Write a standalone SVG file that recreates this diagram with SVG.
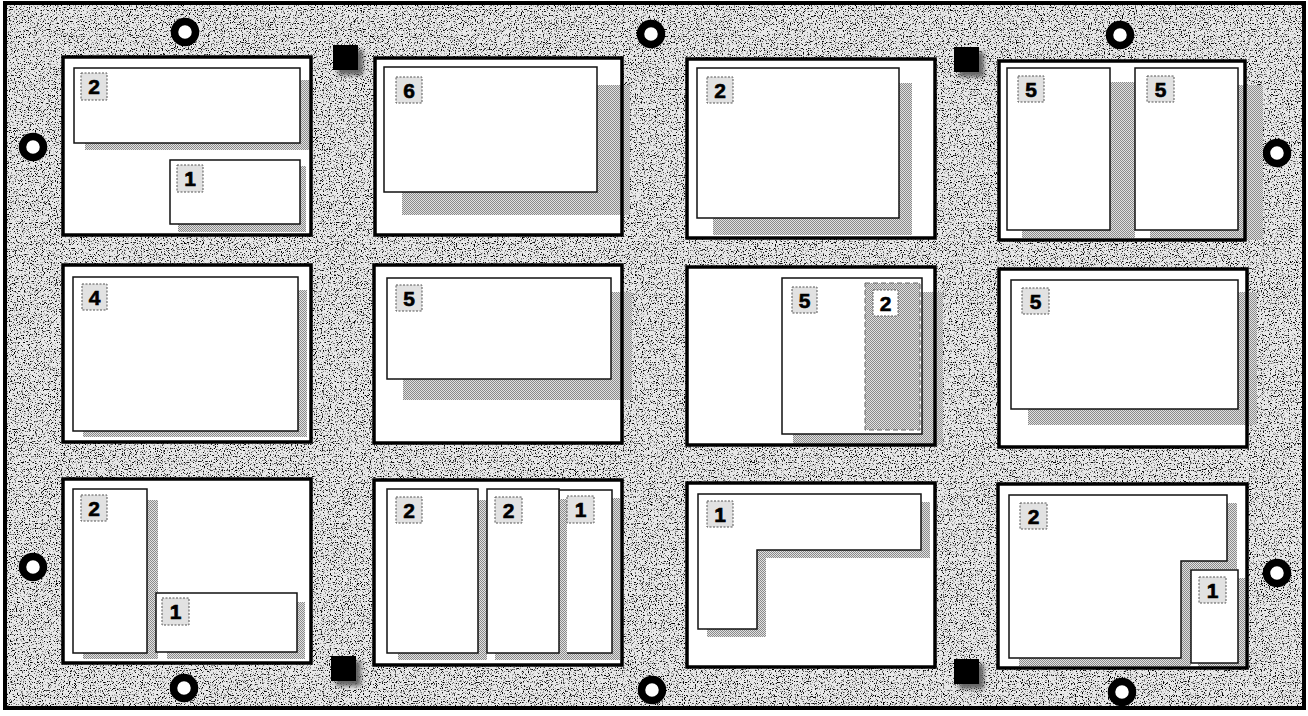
<svg xmlns="http://www.w3.org/2000/svg" width="1308" height="716" viewBox="0 0 1308 716">
<defs>
  <filter id="speck" x="0" y="0" width="100%" height="100%" color-interpolation-filters="sRGB">
    <feTurbulence type="fractalNoise" baseFrequency="0.85" numOctaves="2" seed="5" result="n"/>
    <feColorMatrix in="n" type="matrix" values="0 0 0 0 0  0 0 0 0 0  0 0 0 0 0  1 0 0 0 0"/>
    <feComponentTransfer><feFuncA type="linear" slope="6" intercept="-3.3"/></feComponentTransfer>
  </filter>
  <pattern id="dither" width="2" height="2" patternUnits="userSpaceOnUse">
    <rect width="2" height="2" fill="#e2e2e2"/>
    <rect width="1" height="1" fill="#8a8a8a"/>
    <rect x="1" y="1" width="1" height="1" fill="#8a8a8a"/>
  </pattern>
  <filter id="blur" x="-30%" y="-30%" width="160%" height="160%"><feGaussianBlur stdDeviation="2"/></filter>
  <style>
    .panel{fill:#fff;stroke:none}
    .pborder{fill:none;stroke:#000;stroke-width:3.5}
    .inner{fill:#fff;stroke:#111;stroke-width:1.5}
    .shadow{fill:url(#dither)}
    .lbl{fill:#e2e2e2;stroke:#555;stroke-width:1;stroke-dasharray:2 1.5}
    .lblw{fill:#fff;stroke:#555;stroke-width:1;stroke-dasharray:2 1.5}
    .num{font-family:"Liberation Sans",Arial,sans-serif;font-weight:bold;font-size:21px;fill:#000;text-anchor:middle;stroke:#000;stroke-width:0.6}
    .ring{fill:#fff;stroke:#000;stroke-width:7.5}
    .sq{fill:#000}
    .sqs{fill:#666;filter:url(#blur)}
  </style>
</defs>
<rect width="1308" height="716" fill="#fff"/>
<rect x="5" y="3" width="1299" height="705" fill="#e8e8e8"/>
<rect x="5" y="3" width="1299" height="705" fill="#000" filter="url(#speck)"/>
<rect x="5" y="3" width="1299" height="705" fill="none" stroke="#000" stroke-width="4"/>

<g id="holes">
  <circle class="ring" cx="185" cy="32" r="10.5"/>
  <circle class="ring" cx="651" cy="34" r="10.5"/>
  <circle class="ring" cx="1120" cy="35" r="10.5"/>
  <circle class="ring" cx="33" cy="147" r="10.5"/>
  <circle class="ring" cx="1277" cy="153" r="10.5"/>
  <circle class="ring" cx="33" cy="567" r="10.5"/>
  <circle class="ring" cx="1277" cy="573" r="10.5"/>
  <circle class="ring" cx="184" cy="688" r="10.5"/>
  <circle class="ring" cx="652" cy="690" r="10.5"/>
  <circle class="ring" cx="1122" cy="692" r="10.5"/>
</g>
<g id="markers">
  <rect class="sqs" x="338" y="50" width="25" height="25"/>
  <rect class="sq" x="333" y="45" width="25" height="25"/>
  <rect class="sqs" x="959" y="52" width="25" height="25"/>
  <rect class="sq" x="954" y="47" width="25" height="25"/>
  <rect class="sqs" x="336" y="661" width="25" height="25"/>
  <rect class="sq" x="331" y="656" width="25" height="25"/>
  <rect class="sqs" x="959" y="664" width="25" height="25"/>
  <rect class="sq" x="954" y="659" width="25" height="25"/>
</g>

<g id="panel-r1c1">
  <rect class="panel" x="63" y="57" width="248" height="178"/>
  <rect class="shadow" x="85" y="80" width="226" height="70"/>
  <rect class="inner" x="74" y="68" width="226" height="75"/>
  <rect class="shadow" x="178" y="166" width="128" height="66"/>
  <rect class="inner" x="170" y="160" width="130" height="64"/>
  <rect class="lbl" x="81" y="73" width="26" height="27"/><text class="num" x="94" y="94">2</text>
  <rect class="lbl" x="177" y="165" width="26" height="27"/><text class="num" x="190" y="186">1</text>
  <rect class="pborder" x="63" y="57" width="248" height="178"/>
</g>

<g id="panel-r1c2">
  <rect class="panel" x="375" y="58" width="247" height="177"/>
  <rect class="shadow" x="402" y="85" width="228" height="130"/>
  <rect class="inner" x="384" y="67" width="213" height="125"/>
  <rect class="lbl" x="396" y="77" width="26" height="26"/><text class="num" x="409" y="98">6</text>
  <rect class="pborder" x="375" y="58" width="247" height="177"/>
</g>

<g id="panel-r1c3">
  <rect class="panel" x="687" y="59" width="248" height="179"/>
  <rect class="shadow" x="713" y="83" width="199" height="152"/>
  <rect class="inner" x="697" y="68" width="202" height="150"/>
  <rect class="lbl" x="707" y="77" width="26" height="26"/><text class="num" x="720" y="98">2</text>
  <rect class="pborder" x="687" y="59" width="248" height="179"/>
</g>

<g id="panel-r1c4">
  <rect class="panel" x="999" y="61" width="246" height="179"/>
  <rect class="shadow" x="1022" y="82" width="113" height="156"/>
  <rect class="shadow" x="1150" y="85" width="113" height="155"/>
  <rect class="inner" x="1007" y="68" width="103" height="162"/>
  <rect class="inner" x="1135" y="68" width="103" height="162"/>
  <rect class="lbl" x="1018" y="76" width="26" height="26"/><text class="num" x="1031" y="97">5</text>
  <rect class="lbl" x="1147" y="76" width="27" height="26"/><text class="num" x="1160.5" y="97">5</text>
  <rect class="pborder" x="999" y="61" width="246" height="179"/>
</g>

<g id="panel-r2c1">
  <rect class="panel" x="63" y="265" width="248" height="177"/>
  <rect class="shadow" x="83" y="290" width="224" height="147"/>
  <rect class="inner" x="73" y="277" width="225" height="154"/>
  <rect class="lbl" x="82" y="284" width="25" height="26"/><text class="num" x="94.5" y="305">4</text>
  <rect class="pborder" x="63" y="265" width="248" height="177"/>
</g>

<g id="panel-r2c2">
  <rect class="panel" x="374" y="265" width="248" height="178"/>
  <rect class="shadow" x="403" y="292" width="229" height="108"/>
  <rect class="inner" x="387" y="278" width="224" height="101"/>
  <rect class="lbl" x="396" y="285" width="26" height="26"/><text class="num" x="409" y="306">5</text>
  <rect class="pborder" x="374" y="265" width="248" height="178"/>
</g>

<g id="panel-r2c3">
  <rect class="panel" x="687" y="267" width="248" height="178"/>
  <rect class="shadow" x="793" y="292" width="150" height="153"/>
  <rect class="inner" x="782" y="278" width="140" height="156"/>
  <rect class="shadow" x="865" y="283" width="55" height="147" stroke="#666" stroke-width="1" stroke-dasharray="5 3"/>
  <rect class="lbl" x="792" y="287" width="25" height="26"/><text class="num" x="804.5" y="308">5</text>
  <rect class="lblw" x="873" y="290" width="25" height="26"/><text class="num" x="885.5" y="311">2</text>
  <rect class="pborder" x="687" y="267" width="248" height="178"/>
</g>

<g id="panel-r2c4">
  <rect class="panel" x="999" y="269" width="248" height="178"/>
  <rect class="shadow" x="1028" y="292" width="229" height="133"/>
  <rect class="inner" x="1011" y="280" width="227" height="129"/>
  <rect class="lbl" x="1022" y="288" width="27" height="26"/><text class="num" x="1035.5" y="309">5</text>
  <rect class="pborder" x="999" y="269" width="248" height="178"/>
</g>

<g id="panel-r3c1">
  <rect class="panel" x="63" y="479" width="248" height="184"/>
  <rect class="shadow" x="83" y="500" width="75" height="159"/>
  <rect class="shadow" x="167" y="602" width="138" height="57"/>
  <rect class="inner" x="73" y="489" width="74" height="164"/>
  <rect class="inner" x="156" y="593" width="141" height="59"/>
  <rect class="lbl" x="81" y="495" width="26" height="26"/><text class="num" x="94" y="516">2</text>
  <rect class="lbl" x="162" y="598" width="27" height="27"/><text class="num" x="175.5" y="619">1</text>
  <rect class="pborder" x="63" y="479" width="248" height="184"/>
</g>

<g id="panel-r3c2">
  <rect class="panel" x="374" y="480" width="248" height="185"/>
  <rect class="shadow" x="567" y="498" width="53" height="162"/>
  <rect class="inner" x="559" y="490" width="53" height="163"/>
  <rect class="shadow" x="398" y="500" width="89" height="160"/>
  <rect class="shadow" x="495" y="499" width="72" height="161"/>
  <rect class="inner" x="387" y="489" width="91" height="164"/>
  <rect class="inner" x="487" y="489" width="72" height="164"/>
  <rect class="lbl" x="396" y="497" width="26" height="26"/><text class="num" x="409" y="518">2</text>
  <rect class="lbl" x="495" y="497" width="27" height="26"/><text class="num" x="508.5" y="518">2</text>
  <rect class="lbl" x="567" y="496" width="27" height="27"/><text class="num" x="580.5" y="517">1</text>
  <rect class="pborder" x="374" y="480" width="248" height="185"/>
</g>

<g id="panel-r3c3">
  <rect class="panel" x="687" y="483" width="248" height="184"/>
  <path class="shadow" d="M707,502 H930 V558 H766 V637 H707 Z"/>
  <path class="inner" d="M698,494 H921 V550 H757 V629 H698 Z"/>
  <rect class="lbl" x="707" y="501" width="26" height="26"/><text class="num" x="720" y="522">1</text>
  <rect class="pborder" x="687" y="483" width="248" height="184"/>
</g>

<g id="panel-r3c4">
  <rect class="panel" x="998" y="484" width="249" height="184"/>
  <path class="shadow" d="M1019,503 H1237 V569 H1191 V666 H1019 Z"/>
  <rect class="shadow" x="1198" y="578" width="47" height="90"/>
  <path class="inner" d="M1009,495 H1227 V561 H1181 V658 H1009 Z"/>
  <rect class="inner" x="1191" y="570" width="47" height="93"/>
  <rect class="lbl" x="1020" y="503" width="27" height="26"/><text class="num" x="1033.5" y="524">2</text>
  <rect class="lbl" x="1199" y="577" width="27" height="26"/><text class="num" x="1212.5" y="598">1</text>
  <rect class="pborder" x="998" y="484" width="249" height="184"/>
</g>

<g id="connectors"/>
</svg>
